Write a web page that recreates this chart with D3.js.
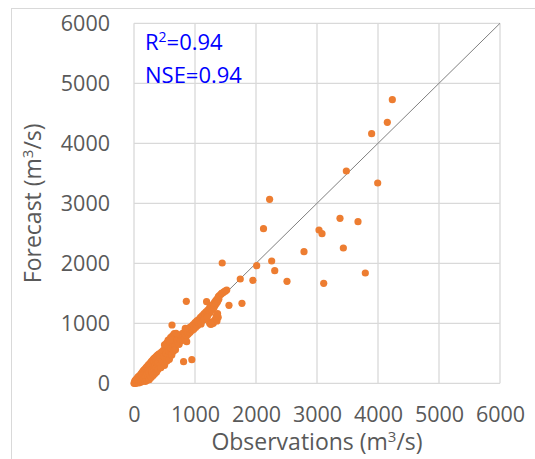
<!DOCTYPE html>
<html lang="en">
<head>
<meta charset="UTF-8">
<title>Forecast vs Observations</title>
<script src="https://d3js.org/d3.v7.min.js"></script>
<style>
  body { margin: 0; background: #fff; }
  svg text { font-family: "Open Sans", sans-serif; }
</style>
</head>
<body>
<svg id="chart" width="535" height="459"></svg>
<script>
// axis ticks
const xTicks = [0, 1000, 2000, 3000, 4000, 5000, 6000];
const yTicks = [0, 1000, 2000, 3000, 4000, 5000, 6000];

// dense band at low flows [obs, forecast]
const lowPoints = [
  [0,0],[10,30],[15,5],[20,50],[25,15],[30,0],[35,60],[40,25],[45,80],[50,10],
  [55,45],[60,90],[65,30],[70,110],[75,55],[80,5],[85,100],[90,70],[95,130],[100,40],
  [105,90],[110,150],[115,20],[120,110],[125,170],[130,70],[135,130],[140,190],[145,40],[150,100],
  [155,210],[160,150],[165,60],[170,230],[175,120],[180,180],[185,30],[190,250],[195,140],[200,90],
  [205,270],[210,200],[215,50],[220,160],[225,290],[230,230],[235,110],[240,310],[245,180],[250,60],
  [255,260],[260,330],[265,140],[270,220],[275,350],[280,290],[285,100],[290,370],[295,240],[300,170],
  [305,320],[310,390],[315,130],[320,270],[325,410],[330,210],[335,350],[340,160],[345,430],[350,300],
  [355,240],[360,380],[365,450],[370,190],[375,330],[380,270],[385,470],[390,410],[395,230],[400,350],
  [410,490],[420,300],[430,440],[440,260],[450,520],[460,380],[470,330],[480,550],[490,450],[500,300],
  [510,420],[520,580],[530,500],[540,370],[550,610],[560,470],[570,540],[580,400],[590,640],[600,520],
  [610,580],[620,470],[630,680],[640,600],[650,540],[660,700],[670,630],[680,560],[690,740],[700,660],
  [500,640],[520,650],[540,680],[560,720],[580,700],[600,760],[620,780],[640,800],[660,830]
];

// band from about 700 to 1500
const midPoints = [
  [710,720],[720,680],[730,770],[740,650],[750,740],[760,800],[770,710],[780,760],[790,830],[800,720],
  [810,790],[820,850],[830,760],[840,810],[850,880],[860,790],[870,840],[880,900],[890,820],[900,870],
  [910,930],[920,850],[930,890],[940,950],[950,880],[960,920],[970,980],[980,900],[990,950],[1000,1010],
  [1010,930],[1020,980],[1030,1040],[1040,960],[1050,1000],[1060,1060],[1070,990],[1080,1040],[1090,1100],[1100,1020],
  [1110,1070],[1120,1130],[1130,1060],[1140,1110],[1150,1160],[1160,1090],[1170,1140],[1180,1190],[1190,1120],[1200,1170],
  [1210,1220],[1220,1150],[1230,1200],[1240,1260],[1250,1180],[1260,1240],[1270,1290],[1280,1220],[1290,1270],[1300,1320],
  [1310,1260],[1320,1350],[1330,1300],[1340,1380],[1350,1330],[1360,1400],[1370,1360],[1380,1430],[1390,1400],[1400,1460],
  [1420,1480],[1440,1500],[1460,1510],[1480,1530],[1500,1540],[1300,1000],[1320,1050],[1340,1080],[1280,1020],[1360,1040],
  [1380,1100],[1260,980],[1240,1000],[1350,1120],[1370,1160],[1150,1060],[1100,990],[1200,1100],[1190,1360],[1383,1443],
  [1438,1500],[1520,1555]
];

// scattered points off the band
const outlierPoints = [
  [4235,4727],[4153,4350],[3896,4160],[3481,3538],[3995,3338],[2223,3067],[2123,2577],[3377,2750],
  [3672,2693],[3033,2555],[3082,2493],[3432,2255],[2787,2193],[2257,2038],[2307,1877],[2011,1960],
  [1446,2005],[1949,1717],[2508,1700],[3792,1838],[3110,1667],[1742,1738],[1770,1333],[1557,1300],
  [858,1367],[623,972],[841,917],[813,360],[948,393],[864,693],[690,833],[590,722],[1261,988]
];

const annotations = ["0.94", "0.94"];

const svg = d3.select("#chart");
const padL = 134, padR = 500, padT = 23.3, padB = 383.3;
const gray = "#d9d9d9", textColor = "#595959";

const x = d3.scaleLinear().domain([0, 6000]).range([padL, padR]);
const y = d3.scaleLinear().domain([0, 6000]).range([padB, padT]);

// outer chart frame
svg.append("rect")
  .attr("x", 11.5).attr("y", 8.5)
  .attr("width", 600).attr("height", 600)
  .attr("fill", "none").attr("stroke", gray).attr("stroke-width", 1);

// gridlines
svg.append("g").selectAll("line").data(xTicks).join("line")
  .attr("x1", d => x(d)).attr("x2", d => x(d))
  .attr("y1", y(0)).attr("y2", y(6000))
  .attr("stroke", gray).attr("stroke-width", 1.3);
svg.append("g").selectAll("line").data(yTicks).join("line")
  .attr("x1", x(0)).attr("x2", x(6000))
  .attr("y1", d => y(d)).attr("y2", d => y(d))
  .attr("stroke", gray).attr("stroke-width", 1.3);

// axes labels via d3 axes, domain and ticks hidden
const xAxis = svg.append("g")
  .attr("transform", `translate(0,${padB})`)
  .call(d3.axisBottom(x).tickValues(xTicks).tickSize(0).tickPadding(23).tickFormat(d3.format("d")));
const yAxis = svg.append("g")
  .attr("transform", `translate(${padL},0)`)
  .call(d3.axisLeft(y).tickValues(yTicks).tickSize(0).tickPadding(24).tickFormat(d3.format("d")));
[xAxis, yAxis].forEach(g => {
  g.select(".domain").remove();
  g.selectAll("text").attr("font-family", "Open Sans").attr("font-size", 21.5).attr("fill", textColor);
});

// 1:1 line
svg.append("line")
  .attr("x1", x(0)).attr("y1", y(0))
  .attr("x2", x(6000)).attr("y2", y(6000))
  .attr("stroke", "#7f7f7f").attr("stroke-width", 1);

// points
const allPoints = lowPoints.concat(midPoints, outlierPoints);
svg.append("g").selectAll("circle").data(allPoints).join("circle")
  .attr("cx", d => x(d[0])).attr("cy", d => y(d[1]))
  .attr("r", 3.6).attr("fill", "#ED7D31");

// axis titles
const xTitle = svg.append("text")
  .attr("x", (padL + padR) / 2).attr("y", 450)
  .attr("text-anchor", "middle").attr("font-size", 23).attr("fill", textColor);
xTitle.append("tspan").text("Observations (m");
xTitle.append("tspan").attr("font-size", 15).attr("dy", -8).text("3");
xTitle.append("tspan").attr("dy", 8).text("/s)");

const yTitle = svg.append("text")
  .attr("transform", `translate(41,${(padT + padB) / 2}) rotate(-90)`)
  .attr("text-anchor", "middle").attr("font-size", 23).attr("fill", textColor);
yTitle.append("tspan").text("Forecast (m");
yTitle.append("tspan").attr("font-size", 15).attr("dy", -8).text("3");
yTitle.append("tspan").attr("dy", 8).text("/s)");

// statistics
const r2 = svg.append("text").attr("x", 145).attr("y", 50)
  .attr("font-size", 22).attr("fill", "#0000ff");
r2.append("tspan").text("R");
r2.append("tspan").attr("font-size", 14).attr("dy", -8).text("2");
r2.append("tspan").attr("dy", 8).text("=" + annotations[0]);

svg.append("text").attr("x", 145).attr("y", 83)
  .attr("font-size", 22).attr("fill", "#0000ff")
  .text("NSE=" + annotations[1]);
</script>
</body>
</html>
